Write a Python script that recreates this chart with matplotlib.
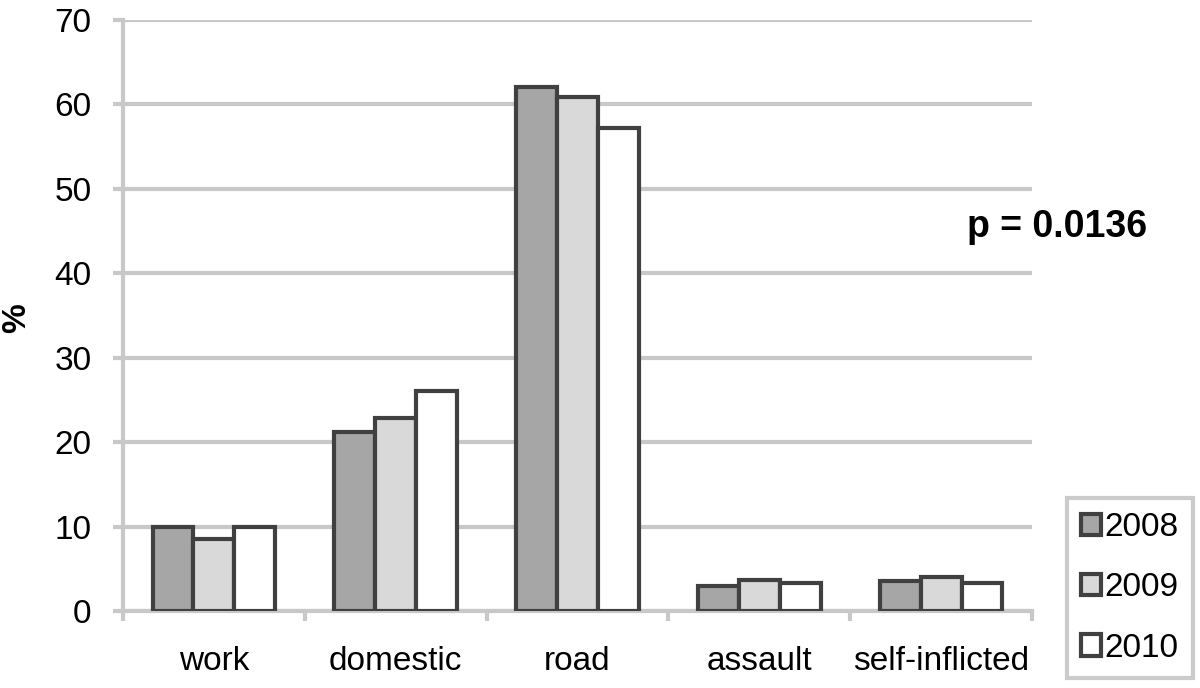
import matplotlib
matplotlib.use("Agg")
import matplotlib.pyplot as plt
import numpy as np
from matplotlib.patches import Patch

plt.rcParams['font.family'] = ['Liberation Sans', 'DejaVu Sans']

categories = ["work", "domestic", "road", "assault", "self-inflicted"]
years = ["2008", "2009", "2010"]
v2008 = [10.0, 21.2, 62.1, 3.0, 3.6]
v2009 = [8.5, 22.8, 60.9, 3.7, 4.0]
v2010 = [10.0, 26.1, 57.2, 3.3, 3.3]
series = [v2008, v2009, v2010]
colors = ["#a6a6a6", "#d9d9d9", "#ffffff"]
edge = "#404040"
grid_c = "#c8c8c8"
fs = 24

fig = plt.figure(figsize=(12, 6.88), dpi=100)
ax = fig.add_axes([0.1025, 0.112, 0.7575, 0.859])

x = np.arange(len(categories))
w = 0.225
for i, (vals, c) in enumerate(zip(series, colors)):
    ax.bar(x + (i - 1) * w, vals, width=w, color=c, edgecolor=edge,
           linewidth=3, zorder=3, label=years[i])

ax.set_xlim(-0.5, len(categories) - 0.5)
ax.set_ylim(0, 70)
ax.set_yticks(np.arange(0, 71, 10))
ax.yaxis.grid(True, color=grid_c, linewidth=3, zorder=0)
ax.set_axisbelow(True)
for s in ["top", "right"]:
    ax.spines[s].set_visible(False)
for s in ["left", "bottom"]:
    ax.spines[s].set_color(grid_c)
    ax.spines[s].set_linewidth(3)
ax.set_xticks(np.arange(-0.5, len(categories) + 0.5, 1))
ax.set_xticklabels([])
ax.set_xticks(x, minor=True)
ax.set_xticklabels(categories, minor=True, fontsize=fs)
ax.tick_params(axis='x', which='major', length=7.5, width=3, color=grid_c)
ax.tick_params(axis='x', which='minor', length=0, pad=25)
ax.tick_params(axis='y', length=7.5, width=3, color=grid_c, labelsize=fs, pad=15)
ax.set_ylabel("%", fontsize=fs, fontweight='bold')
ax.yaxis.set_label_coords(-0.100, 0.496)

fig.text(0.881, 1 - 237 / 688, "p = 0.0136", ha='center', va='baseline',
         fontsize=27, fontweight='bold')

handles = [Patch(facecolor=c, edgecolor=edge, linewidth=3) for c in colors]
leg = fig.legend(handles, years, loc='upper left', bbox_to_anchor=(0.889, 0.276),
                 fontsize=fs, frameon=True, fancybox=False, handlelength=0.6,
                 handleheight=0.6, handletextpad=0.12, labelspacing=0.88,
                 borderpad=0.42, borderaxespad=0)
leg.get_frame().set_edgecolor("#bfbfbf")
leg.get_frame().set_linewidth(3)

fig.savefig("out.png", dpi=100)
